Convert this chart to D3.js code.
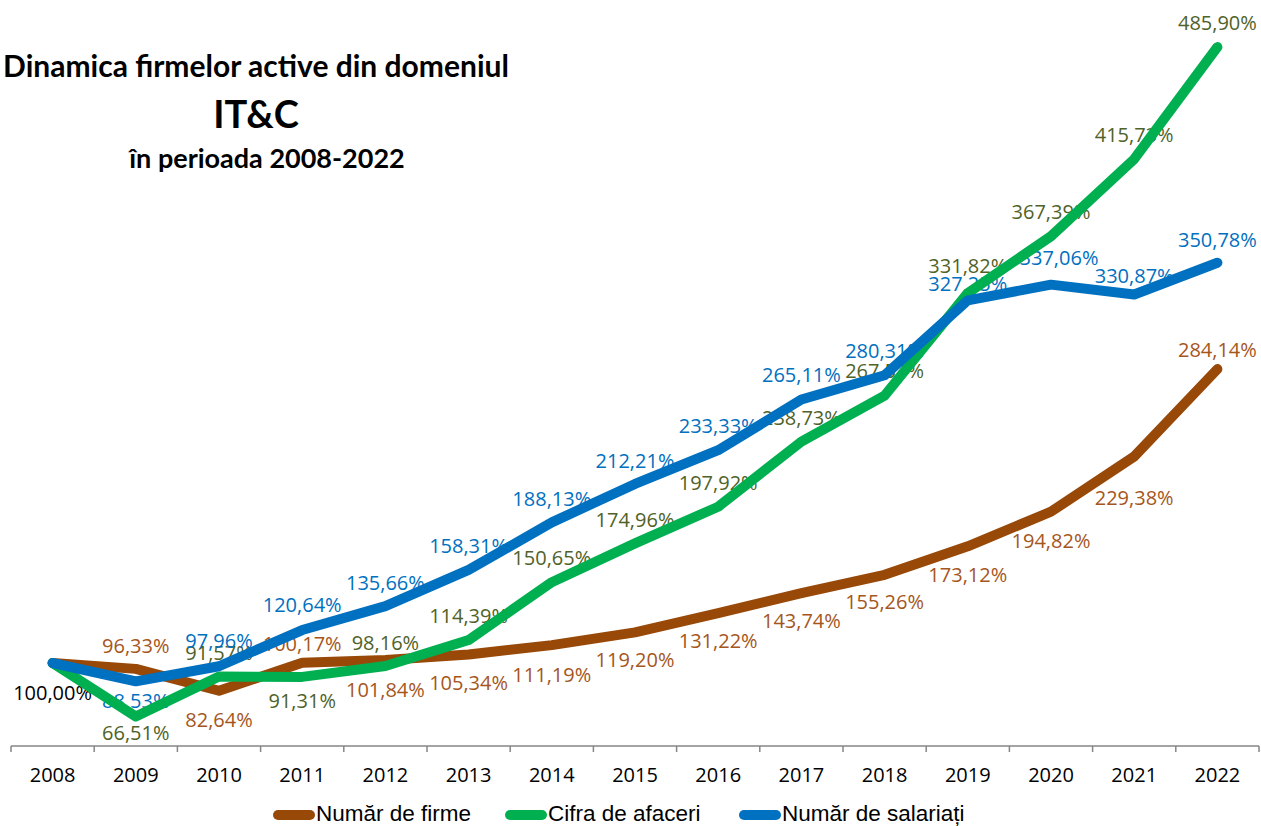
<!DOCTYPE html>
<html>
<head>
<meta charset="utf-8">
<script src="https://cdn.jsdelivr.net/npm/d3@7"></script>
<style>
  body { margin: 0; background: #fff; }
  svg { display: block; }
</style>
</head>
<body>
<div id="chart"></div>
<script>
var years = ["2008","2009","2010","2011","2012","2013","2014","2015","2016","2017","2018","2019","2020","2021","2022"];

var nrFirme = [100.00, 96.33, 82.64, 100.17, 101.84, 105.34, 111.19, 119.20, 131.22, 143.74, 155.26, 173.12, 194.82, 229.38, 284.14];
var cifraAfaceri = [100.00, 66.51, 91.57, 91.31, 98.16, 114.39, 150.65, 174.96, 197.92, 238.73, 267.53, 331.82, 367.39, 415.73, 485.90];
var nrSalariati = [100.00, 88.53, 97.96, 120.64, 135.66, 158.31, 188.13, 212.21, 233.33, 265.11, 280.31, 327.25, 337.06, 330.87, 350.78];

var seriesNames = ["Număr de firme", "Cifra de afaceri", "Număr de salariați"];
var titleLines = ["Dinamica firmelor active din domeniul", "IT&C", "în perioada 2008-2022"];

// where each data label sits relative to its point (baseline offset in px), null = no label
var dyFirme = [37, -16, 36, -12, 37, 36, 37, 35, 35, 35, 34, 36, 36, 48, -12];
var dyCifra = [null, 24, -16, 31, -16, -17, -17, -16, -17, -17, -18, -20, -17, -17, -17];
var dySalariati = [null, 27, -18, -18, -16, -17, -16, -16, -17, -17, -17, -9, -20, -12, -16];

function fmt(v) {
    return v.toFixed(2).replace(".", ",") + "%";
}

var width = 1261, height = 826;

var svg = d3.select("#chart").append("svg")
    .attr("width", width)
    .attr("height", height);

var xScale = d3.scaleBand()
    .domain(years)
    .range([11, 1259])
    .paddingInner(0)
    .paddingOuter(0);

var yScale = d3.scaleLinear()
    .domain([48, 500])
    .range([746, 24.6]);

function cx(d, i) { return xScale(years[i]) + xScale.bandwidth() / 2; }

var series = [
    {name: seriesNames[0], values: nrFirme, color: "#984807", labelColor: "#A5561C", dy: dyFirme},
    {name: seriesNames[1], values: cifraAfaceri, color: "#00B050", labelColor: "#4F6228", dy: dyCifra},
    {name: seriesNames[2], values: nrSalariati, color: "#0070C0", labelColor: "#0070C0", dy: dySalariati}
];

// title
var title = svg.append("g").attr("font-family", "Lato, 'Open Sans', sans-serif")
    .attr("font-weight", 700).attr("fill", "#000").attr("text-anchor", "middle");
title.append("text").attr("x", 256).attr("y", 77).attr("font-size", 30).text(titleLines[0]);
title.append("text").attr("x", 256).attr("y", 128).attr("font-size", 38).text(titleLines[1]);
title.append("text").attr("x", 267).attr("y", 168).attr("font-size", 27).text(titleLines[2]);

// x axis
var axisY = yScale.range()[0];
var xAxis = svg.append("g")
    .attr("transform", "translate(0," + axisY + ")")
    .call(d3.axisBottom(xScale).tickSize(0).tickPadding(22));
xAxis.select(".domain").remove();
xAxis.selectAll("text")
    .attr("font-family", "'Open Sans', sans-serif")
    .attr("font-size", 20)
    .attr("fill", "#000");

var bounds = years.map(function(y) { return xScale(y); }).concat([xScale.range()[1]]);
svg.append("line")
    .attr("x1", bounds[0]).attr("x2", bounds[bounds.length - 1])
    .attr("y1", axisY).attr("y2", axisY)
    .attr("stroke", "#868686").attr("stroke-width", 1.5);
svg.selectAll("line.tick").data(bounds).join("line")
    .attr("class", "tick")
    .attr("x1", function(d) { return d; }).attr("x2", function(d) { return d; })
    .attr("y1", axisY).attr("y2", axisY + 6)
    .attr("stroke", "#868686").attr("stroke-width", 1.5);

// data labels (drawn under the lines, like the original)
series.forEach(function(s, si) {
    svg.append("g").selectAll("text")
        .data(s.values.map(function(v, i) { return {v: v, i: i}; }).filter(function(d) { return s.dy[d.i] !== null; }))
        .join("text")
        .attr("x", function(d) { return cx(d, d.i) + (si === 2 && d.i === 12 ? 8 : 0); })
        .attr("y", function(d) { return yScale(d.v) + s.dy[d.i]; })
        .attr("text-anchor", "middle")
        .attr("font-family", "'Open Sans', sans-serif")
        .attr("font-size", 20)
        .attr("fill", function(d) { return (si === 0 && d.i === 0) ? "#000" : s.labelColor; })
        .text(function(d) { return fmt(d.v); });
});

// lines
var line = d3.line()
    .x(function(d, i) { return cx(d, i); })
    .y(function(d) { return yScale(d); });

series.forEach(function(s) {
    svg.append("path")
        .datum(s.values)
        .attr("d", line)
        .attr("fill", "none")
        .attr("stroke", s.color)
        .attr("stroke-width", 10)
        .attr("stroke-linejoin", "round")
        .attr("stroke-linecap", "round");
});

// legend
var legendX = [273, 505, 739];
var legend = svg.append("g");
series.forEach(function(s, i) {
    legend.append("line")
        .attr("x1", legendX[i] + 5).attr("x2", legendX[i] + 37)
        .attr("y1", 815).attr("y2", 815)
        .attr("stroke", s.color).attr("stroke-width", 10)
        .attr("stroke-linecap", "round");
    legend.append("text")
        .attr("x", legendX[i] + 43).attr("y", 821)
        .attr("font-family", "'Liberation Sans', Arial, sans-serif")
        .attr("font-size", 22.5)
        .attr("fill", "#000")
        .text(s.name);
});
</script>
</body>
</html>
